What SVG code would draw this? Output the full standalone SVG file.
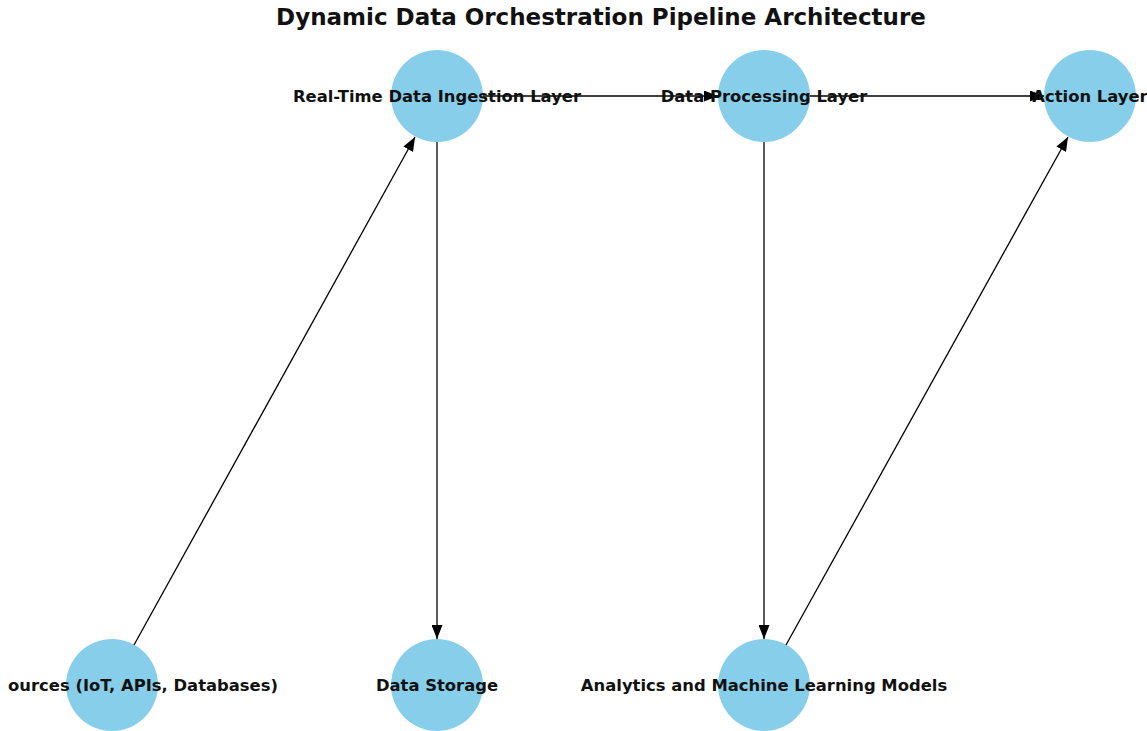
<svg xmlns="http://www.w3.org/2000/svg" width="1147" height="731" viewBox="0 0 1147 731">
<defs>
<marker id="ah" viewBox="0 0 14 11" refX="14" refY="5.5" markerWidth="14" markerHeight="11" markerUnits="userSpaceOnUse" orient="auto">
<path d="M0,0 L14,5.5 L0,11 Z" fill="#000"/>
</marker>
<style>
.node{fill:#87ceeb;}
.lbl{font-family:"DejaVu Sans",sans-serif;font-weight:bold;font-size:16.4px;fill:#111;text-anchor:middle;dominant-baseline:central;}
.edge{stroke:#000;stroke-width:1.3;fill:none;marker-end:url(#ah);}
.title{font-family:"DejaVu Sans",sans-serif;font-weight:bold;font-size:23px;fill:#111;text-anchor:middle;}
</style>
</defs>
<rect width="1147" height="731" fill="#fff"/>
<text class="title" x="601" y="25">Dynamic Data Orchestration Pipeline Architecture</text>
<g id="nodes-circles">
<g id="n-ingest"><circle class="node" cx="437" cy="96" r="46"/></g>
<g id="n-process"><circle class="node" cx="764" cy="96" r="46"/></g>
<g id="n-action"><circle class="node" cx="1090" cy="96" r="46"/></g>
<g id="n-sources"><circle class="node" cx="112" cy="685" r="46"/></g>
<g id="n-storage"><circle class="node" cx="437" cy="685" r="46"/></g>
<g id="n-analytics"><circle class="node" cx="764" cy="685" r="46"/></g>
</g>
<g id="connectors">
<line class="edge" x1="134" y1="645" x2="415" y2="137"/>
<line class="edge" x1="437" y1="142" x2="437" y2="639"/>
<line class="edge" x1="483" y1="96" x2="718" y2="96"/>
<line class="edge" x1="810" y1="96" x2="1044" y2="96"/>
<line class="edge" x1="764" y1="142" x2="764" y2="639"/>
<line class="edge" x1="786" y1="645" x2="1068" y2="137"/>
</g>
<g id="labels">
<text class="lbl" x="437" y="96">Real-Time Data Ingestion Layer</text>
<text class="lbl" x="764" y="96">Data Processing Layer</text>
<text class="lbl" x="1090" y="96">Action Layer</text>
<text class="lbl" x="278" y="685" style="text-anchor:end">ources (IoT, APIs, Databases)</text>
<text class="lbl" x="437" y="685">Data Storage</text>
<text class="lbl" x="764" y="685">Analytics and Machine Learning Models</text>
</g>
</svg>
